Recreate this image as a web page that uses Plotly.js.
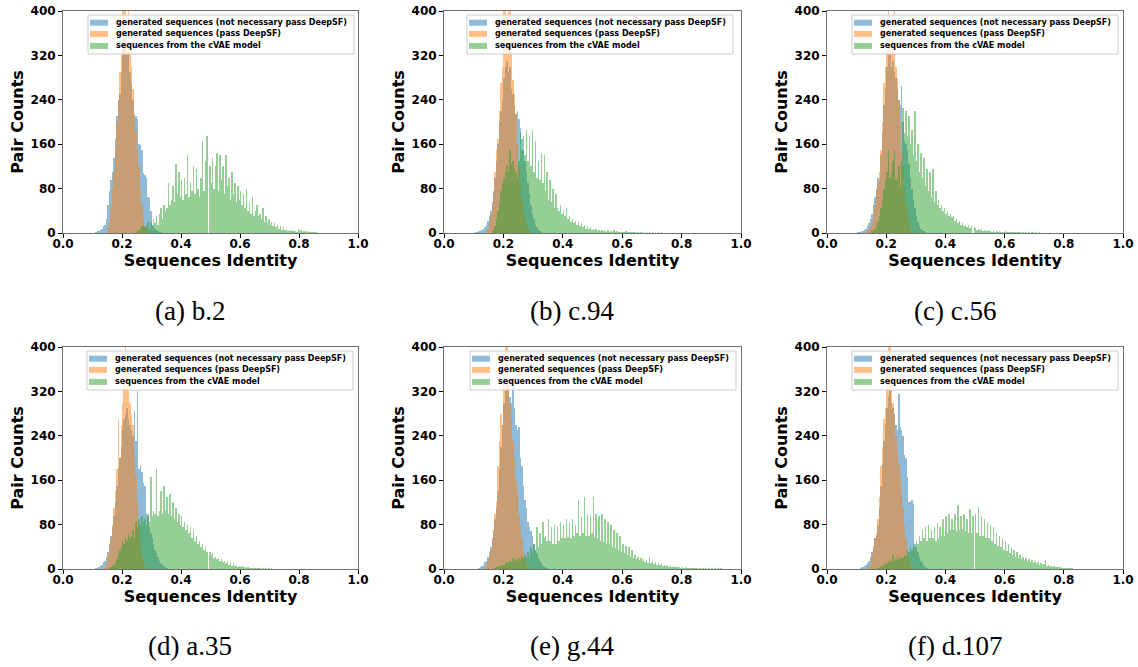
<!DOCTYPE html>
<html>
<head>
<meta charset="utf-8">
<script src="https://cdn.plot.ly/plotly-3.0.1.min.js"></script>
<style>
  html, body { margin: 0; padding: 0; background: #ffffff; }
  #chart { width: 1138px; height: 667px; }
</style>
</head>
<body>
<div id="chart"></div>
<script>
// ---------------- DATA ----------------
// histogram bin width (identity units); arrays hold pair counts per bin, starting at the given left edge
const BIN = 0.005;

const seriesNames = [
  'generated sequences (not necessary pass DeepSF)',
  'generated sequences (pass DeepSF)',
  'sequences from the cVAE model'
];
const captions = ['(a) b.2', '(b) c.94', '(c) c.56', '(d) a.35', '(e) g.44', '(f) d.107'];
const xTicks = [0.0, 0.2, 0.4, 0.6, 0.8, 1.0];
const yTicks = [0, 80, 160, 240, 320, 400];

// (a) b.2
const aBlueStart = 0.110;
const aBlue = [2,3,4,5,8,12,15,25,50,75,95,110,135,170,210,240,250,290,330,350,360,320,330,290,270,240,215,210,205,160,158,150,108,105,100,65,63,40,15,12,8,5,3,2,1];
const aOrangeStart = 0.150;
const aOrange = [10,25,50,80,110,150,200,240,290,330,420,410,420,380,410,330,300,260,210,185,150,120,80,50,25,12,5,2];
const aGreenStart = 0.250;
const aGreen = [3,5,8,12,15,10,15,20,8,20,12,25,18,30,15,35,45,25,50,40,45,90,50,60,85,55,125,70,110,65,95,60,100,70,140,65,90,75,120,70,115,80,65,100,165,75,130,175,0,120,90,135,80,120,145,75,140,95,120,70,140,85,100,60,110,70,90,55,85,60,75,50,70,45,80,40,55,35,65,30,40,50,30,35,25,45,20,30,18,25,15,20,12,18,10,15,8,12,6,10,5,8,4,6,3,5,3,4,2,8,3,5,2,4,1,3,1,2,1,2,1,1];

// (b) c.94
const bBlueStart = 0.105;
const bBlue = [2,2,3,4,5,8,10,15,22,30,40,55,75,100,130,160,200,220,240,280,300,310,290,300,260,250,230,215,220,205,190,170,150,130,110,90,70,50,35,25,15,10,6,3,2];
const bOrangeStart = 0.140;
const bOrange = [3,8,20,35,50,70,110,150,170,220,270,300,410,420,380,410,420,330,275,250,215,160,120,90,60,40,25,15,8,4,2];
const bGreenStart = 0.160;
const bGreen = [3,6,12,25,40,55,75,90,100,110,120,110,150,125,130,115,110,100,130,180,150,175,140,185,130,175,120,185,110,165,100,130,95,145,90,140,75,110,60,95,55,80,45,70,45,40,50,35,40,30,45,25,30,20,25,18,22,15,20,12,18,10,15,8,12,7,10,6,8,5,7,4,6,3,5,3,4,2,6,2,3,2,5,1,3,1,2,1,2,1,3,1,2,1,1,1,1,0,1,0,1,0,1,0,1,0,1,0,1,0,1,0,1,0,1];

// (c) c.56
const cBlueStart = 0.100;
const cBlue = [1,2,2,3,4,6,8,12,18,25,35,50,65,80,100,95,140,180,230,260,300,330,320,300,310,290,280,260,240,230,265,200,165,160,150,125,100,80,60,45,30,20,12,8,5,3,2];
const cOrangeStart = 0.130;
const cOrange = [2,4,8,12,20,35,50,75,90,110,150,200,270,300,330,410,370,330,350,420,300,280,240,200,150,120,80,55,35,20,10,5,2];
const cGreenStart = 0.150;
const cGreen = [3,5,8,12,20,30,45,60,80,95,110,150,100,110,130,150,95,100,120,85,130,225,180,220,175,210,160,185,140,220,130,160,110,145,100,135,85,115,75,110,65,115,55,75,50,60,45,50,40,45,35,40,30,35,28,30,22,25,18,22,15,18,12,15,10,14,9,12,0,10,9,6,8,5,7,4,6,3,5,3,4,2,4,2,3,2,3,1,2,1,3,1,2,1,2,1,1,1,1,1,1,0,1,0,1,0,1,0,2,1,0,1,0,1];

// (d) a.35
const dBlueStart = 0.110;
const dBlue = [1,2,3,5,8,12,15,22,30,45,60,75,95,120,150,180,200,220,250,270,280,290,270,260,250,240,285,230,320,180,185,175,155,150,100,95,75,65,55,45,35,28,22,15,10,7,5,3,2];
const dOrangeStart = 0.140;
const dOrange = [3,10,25,40,55,80,110,140,180,270,200,260,300,380,410,360,320,300,280,260,200,170,120,80,50,25,12,5,2];
const dGreenStart = 0.160;
const dGreen = [3,5,8,12,18,25,35,40,50,45,55,50,65,55,60,70,55,85,75,90,80,95,85,90,80,100,85,165,95,105,100,180,95,105,140,100,150,105,130,100,135,95,120,90,110,85,100,80,95,75,85,70,80,65,75,55,70,50,60,45,50,40,45,35,40,30,0,30,25,28,20,22,18,20,15,18,12,15,10,14,8,12,6,10,5,7,4,6,3,5,3,4,2,3,2,2,1,2,1,1,1,1,0,1,0,1,0,1,0,1];

// (e) g.44
const eBlueStart = 0.115;
const eBlue = [2,4,6,8,12,15,22,30,40,55,70,90,110,140,180,220,260,300,320,330,320,310,300,330,290,260,250,255,200,185,150,125,110,85,75,68,60,45,35,28,20,14,10,6,4,3,2];
const eOrangeStart = 0.130;
const eOrange = [2,4,8,15,25,35,50,70,100,120,185,230,280,260,390,420,410,340,300,270,230,200,160,140,100,80,55,35,20,10,5,2];
const eGreenStart = 0.170;
const eGreen = [2,3,4,5,6,8,8,10,12,10,14,12,20,15,18,14,20,16,22,18,25,20,30,22,40,30,45,35,75,40,65,45,85,55,60,50,90,50,75,45,80,45,75,50,85,55,80,55,90,58,85,55,90,60,80,65,125,60,95,65,130,60,100,60,95,65,130,58,100,55,95,50,100,48,90,45,85,45,80,40,70,38,65,35,60,30,45,28,42,25,40,22,35,20,25,18,22,16,20,14,18,12,16,10,22,10,14,9,12,8,10,7,9,6,8,5,7,4,6,4,5,3,4,3,4,2,3,2,3,1,2,1,2,1,1,1,1,0,1,0,1,0,1,0,1,0,1,0,1,0,1,0,1];

// (f) d.107
const fBlueStart = 0.110;
const fBlue = [2,3,4,5,7,10,15,22,30,42,55,60,80,110,150,190,230,260,290,310,320,300,290,280,260,250,315,255,250,240,205,200,165,120,120,125,118,45,40,30,22,15,10,6,4,2];
const fOrangeStart = 0.135;
const fOrange = [3,6,12,25,40,55,65,90,130,185,220,270,290,380,420,410,340,300,280,240,210,190,170,140,110,80,55,35,20,10,4,2];
const fGreenStart = 0.170;
const fGreen = [2,3,5,6,8,10,10,12,14,12,25,14,18,16,20,18,22,20,26,24,34,30,40,35,45,40,50,45,60,50,70,55,75,50,80,55,70,55,75,50,82,55,75,60,90,60,95,65,100,70,90,70,100,68,115,70,95,72,100,68,90,65,108,65,95,0,100,65,112,60,95,60,90,55,85,55,80,50,75,45,65,42,60,40,55,35,50,32,45,28,38,25,35,22,30,20,25,18,22,16,20,14,18,12,16,10,14,9,12,8,10,7,9,16,6,8,5,6,4,5,3,4,3,3,2,2,2,1,2,1,1,1];

// ---------------- BUILD ----------------
const panels = [
  [aBlueStart, aBlue, aOrangeStart, aOrange, aGreenStart, aGreen],
  [bBlueStart, bBlue, bOrangeStart, bOrange, bGreenStart, bGreen],
  [cBlueStart, cBlue, cOrangeStart, cOrange, cGreenStart, cGreen],
  [dBlueStart, dBlue, dOrangeStart, dOrange, dGreenStart, dGreen],
  [eBlueStart, eBlue, eOrangeStart, eOrange, eGreenStart, eGreen],
  [fBlueStart, fBlue, fOrangeStart, fOrange, fGreenStart, fGreen]
];

const colors = ['rgba(31,119,180,0.5)', 'rgba(255,127,14,0.5)', 'rgba(44,160,44,0.5)'];

const W = 1138, H = 667;
const colPx = [[63, 358], [444, 741], [827, 1123]];
const rowPx = [[11, 233], [347, 569]];
const legendRight = [354, 733, 1118, 353, 736, 1118];
const legendTop = [15, 351];
const LEG_W = 266, LEG_H = 39;
const legendRowOff = [7.7, 18.9, 30.9];
const captionX = [190, 572, 955];
const captionY = [311, 646];

function centers(start, counts) {
  return counts.map((_, i) => +(start + (i + 0.5) * BIN).toFixed(4));
}

const traces = [];
const layout = {
  width: W, height: H,
  margin: {l: 0, r: 0, t: 0, b: 0},
  paper_bgcolor: '#ffffff',
  plot_bgcolor: '#ffffff',
  barmode: 'overlay',
  bargap: 0,
  showlegend: false,
  font: {family: 'DejaVu Sans', color: '#000'},
  annotations: [],
  shapes: []
};

const tickFont = {family: 'DejaVu Sans', size: 12, color: '#000', weight: 'bold'};
const titleFont = {family: 'DejaVu Sans', size: 16, color: '#000', weight: 'bold'};
const legendFont = {family: 'DejaVu Sans', size: 8, color: '#000', weight: 'bold'};

panels.forEach((p, k) => {
  const r = Math.floor(k / 3), c = k % 3;
  const sfx = k === 0 ? '' : String(k + 1);
  const xa = 'x' + sfx, ya = 'y' + sfx;
  const xd = [colPx[c][0] / W, colPx[c][1] / W];
  const yd = [1 - rowPx[r][1] / H, 1 - rowPx[r][0] / H];

  layout['xaxis' + sfx] = {
    domain: xd, anchor: ya, range: [0, 1],
    tickvals: xTicks, ticktext: xTicks.map(v => v.toFixed(1)),
    ticks: 'outside', ticklen: 4, tickwidth: 1, tickcolor: '#000',
    ticklabelstandoff: -4,
    showline: true, linecolor: '#707070', linewidth: 1, mirror: true,
    showgrid: false, zeroline: false, fixedrange: true,
    tickfont: tickFont,
    title: {text: 'Sequences Identity', font: titleFont, standoff: 4}
  };
  layout['yaxis' + sfx] = {
    domain: yd, anchor: xa, range: [0, 400],
    tickvals: yTicks, ticktext: yTicks.map(String),
    ticks: 'outside', ticklen: 4, tickwidth: 1, tickcolor: '#000',
    showline: true, linecolor: '#707070', linewidth: 1, mirror: true,
    showgrid: false, zeroline: false, fixedrange: true,
    tickfont: tickFont,
    title: {text: 'Pair Counts', font: titleFont, standoff: 2}
  };

  const sets = [[p[0], p[1]], [p[2], p[3]], [p[4], p[5]]];
  sets.forEach((s, j) => {
    traces.push({
      type: 'bar',
      name: seriesNames[j],
      x: centers(s[0], s[1]),
      y: s[1],
      width: BIN,
      xaxis: xa, yaxis: ya,
      marker: {color: colors[j], line: {width: 0}},
      hoverinfo: 'skip'
    });
  });

  // legend box (matplotlib-style, drawn on top of the bars)
  const R = legendRight[k], T = legendTop[r];
  layout.shapes.push({
    type: 'rect', xref: 'paper', yref: 'paper', layer: 'above',
    x0: (R - LEG_W) / W, x1: R / W, y0: 1 - (T + LEG_H) / H, y1: 1 - T / H,
    fillcolor: 'rgba(255,255,255,0.8)', line: {color: '#cccccc', width: 1}
  });
  seriesNames.forEach((nm, j) => {
    const cy = T + legendRowOff[j];
    layout.shapes.push({
      type: 'rect', xref: 'paper', yref: 'paper', layer: 'above',
      x0: (R - 264) / W, x1: (R - 246) / W, y0: 1 - (cy + 3) / H, y1: 1 - (cy - 3) / H,
      fillcolor: colors[j], line: {width: 0}
    });
    layout.annotations.push({
      text: nm, xref: 'paper', yref: 'paper',
      x: (R - 240) / W, y: 1 - cy / H, xanchor: 'left', yanchor: 'middle',
      showarrow: false, font: legendFont
    });
  });

  layout.annotations.push({
    text: captions[k], xref: 'paper', yref: 'paper',
    x: captionX[c] / W, y: 1 - captionY[r] / H,
    xanchor: 'center', yanchor: 'middle', showarrow: false,
    font: {family: 'Liberation Serif', size: 27, color: '#000'}
  });
});

Plotly.newPlot('chart', traces, layout, {staticPlot: true, displayModeBar: false});
</script>
</body>
</html>
